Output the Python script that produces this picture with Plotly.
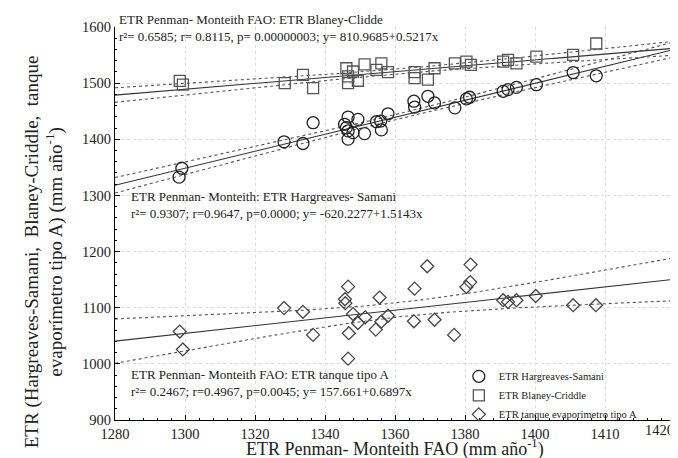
import numpy as np
import plotly.graph_objects as go

# ---------------- data ----------------
hs_x = [1298.3, 1299.1, 1328.3, 1333.7, 1336.6, 1345.6, 1346.1, 1346.6, 1346.6, 1348.0,
        1346.6, 1349.4, 1351.3, 1354.7, 1355.9, 1356.1, 1358.0, 1365.4, 1365.6, 1369.4,
        1371.3, 1377.1, 1380.4, 1381.3, 1390.9, 1392.3, 1394.7, 1400.4, 1410.9, 1417.5]
hs_y = [1332.6, 1348.4, 1395.5, 1392.5, 1429.5, 1426.7, 1420.7, 1439.6, 1414.9, 1411.9,
        1400.3, 1435.5, 1410.1, 1431.3, 1432.5, 1416.7, 1445.4, 1467.8, 1457.2, 1476.6,
        1464.8, 1456.0, 1471.9, 1474.9, 1485.4, 1488.4, 1492.5, 1497.2, 1518.9, 1513.1]

bc_x = [1298.5, 1299.4, 1328.5, 1333.7, 1336.6, 1346.1, 1346.6, 1346.6, 1348.0, 1349.4,
        1351.3, 1354.7, 1356.1, 1358.0, 1365.6, 1365.6, 1369.4, 1371.3, 1377.1, 1380.4,
        1381.7, 1390.9, 1392.3, 1394.7, 1400.4, 1410.9, 1417.5]
bc_y = [1504.0, 1497.2, 1500.1, 1514.9, 1491.3, 1526.5, 1511.9, 1500.1, 1520.7, 1504.3,
        1533.6, 1523.7, 1535.3, 1519.5, 1519.5, 1508.9, 1506.1, 1526.5, 1535.3, 1538.3,
        1532.5, 1538.3, 1541.3, 1535.3, 1547.1, 1550.2, 1570.6]

ta_x = [1298.5, 1299.4, 1328.3, 1333.7, 1336.6, 1346.6, 1345.7, 1345.8, 1348.0, 1346.8,
        1346.6, 1349.4, 1351.5, 1354.5, 1356.1, 1355.6, 1358.0, 1365.6, 1365.4, 1369.2,
        1371.3, 1376.9, 1380.4, 1381.5, 1381.6, 1390.9, 1392.3, 1394.7, 1400.2, 1410.9, 1417.4]
ta_y = [1057.5, 1025.7, 1099.3, 1092.7, 1051.6, 1137.5, 1115.1, 1108.1, 1088.7, 1054.6,
        1009.3, 1072.8, 1082.9, 1061.0, 1075.1, 1118.1, 1085.7, 1134.0, 1075.8, 1173.8,
        1078.6, 1051.6, 1136.8, 1145.6, 1176.8, 1113.4, 1110.4, 1113.4, 1120.9, 1104.5, 1104.5]

# regression coefficients (intercept, slope) as printed on the chart
hs_coef = [-620.2277, 1.5143]
bc_coef = [810.9685, 0.5217]
ta_coef = [157.661, 0.6897]

x_tickvals = [1280, 1300, 1320, 1340, 1360, 1380, 1400, 1420, 1440]
x_ticktext = ["1280", "1300", "1320", "1340", "1360", "1380", "1400", "1410", "1420"]
y_tickvals = [900, 1000, 1100, 1200, 1300, 1400, 1500, 1600]

X_MIN, X_MAX = 1280, 1440
T_CRIT = 2.05

FONT = "Liberation Serif"
TXT = "#222222"


def fit_band(xs, ys, coef):
    xs = np.asarray(xs, float)
    ys = np.asarray(ys, float)
    n = len(xs)
    b0, b1 = coef
    res = ys - (b0 + b1 * xs)
    s = np.sqrt(np.sum(res ** 2) / (n - 2))
    xbar = xs.mean()
    sxx = np.sum((xs - xbar) ** 2)
    grid = np.linspace(X_MIN, X_MAX, 200)
    yhat = b0 + b1 * grid
    half = T_CRIT * s * np.sqrt(1.0 / n + (grid - xbar) ** 2 / sxx)
    return grid, yhat, yhat - half, yhat + half


fig = go.Figure()

series = [
    (hs_x, hs_y, hs_coef, "ETR Hargreaves-Samani", "circle-open", 12, "#222222"),
    (bc_x, bc_y, bc_coef, "ETR Blaney-Criddle", "square-open", 11, "#555555"),
    (ta_x, ta_y, ta_coef, "ETR tanque evaporimetro tipo A", "diamond-open", 10, "#444444"),
]

for xs, ys, coef, name, sym, size, col in series:
    g, yh, lo, hi = fit_band(xs, ys, coef)
    fig.add_trace(go.Scatter(x=g, y=yh, mode="lines", line=dict(color="#333333", width=1.1),
                             showlegend=False, hoverinfo="skip"))
    for band in (lo, hi):
        fig.add_trace(go.Scatter(x=g, y=band, mode="lines",
                                 line=dict(color="#555555", width=1.1, dash="dot"),
                                 showlegend=False, hoverinfo="skip"))

for xs, ys, coef, name, sym, size, col in series:
    fig.add_trace(go.Scatter(x=xs, y=ys, mode="markers", name=name,
                             marker=dict(symbol=sym, size=size, color=col,
                                         line=dict(width=1.3, color=col))))

# annotation text blocks (paper coordinates)
annots = [
    (0.004, 1.019, 13, "ETR Penman- Monteith FAO: ETR Blaney-Clidde"),
    (0.004, 0.975, 13, "r²= 0.6585; r= 0.8115, p= 0.00000003; y= 810.9685+0.5217x"),
    (0.025, 0.569, 13, "ETR Penman- Monteith: ETR Hargreaves- Samani"),
    (0.025, 0.526, 13, "r²= 0.9307; r=0.9647, p=0.0000; y= -620.2277+1.5143x"),
    (0.025, 0.116, 13, "ETR Penman- Monteith FAO: ETR tanque tipo A"),
    (0.025, 0.073, 13, "r²= 0.2467; r=0.4967, p=0.0045; y= 157.661+0.6897x"),
]
for ax_, ay_, fs, t in annots:
    fig.add_annotation(x=ax_, y=ay_, xref="paper", yref="paper", text=t,
                       showarrow=False, xanchor="left", yanchor="middle",
                       font=dict(family=FONT, size=fs, color=TXT))

# last x tick label placed inside the figure edge
fig.add_annotation(xref="paper", yref="paper", x=0.972, y=0.0, text=x_ticktext[-1],
                   showarrow=False, xanchor="center", yanchor="top",
                   font=dict(family=FONT, size=14.5, color=TXT))

# axis titles
fig.add_annotation(xref="paper", yref="paper", x=0.5, y=-0.07,
                   text="ETR Penman- Monteith FAO (mm año<sup>-1</sup>)",
                   showarrow=False, xanchor="center", yanchor="middle",
                   font=dict(family=FONT, size=18, color=TXT))
fig.add_annotation(xref="paper", yref="paper", x=-0.126, y=0.428,
                   text="ETR (Hargreaves-Samani,  Blaney-Criddle,  tanque<br>evaporímetro tipo A) (mm año<sup>-1</sup>)",
                   showarrow=False, xanchor="center", yanchor="middle", textangle=-90,
                   font=dict(family=FONT, size=19, color=TXT))

axis_common = dict(showline=True, linecolor="black", linewidth=1.2, mirror=False,
                   ticks="inside", ticklen=5, tickcolor="black",
                   showgrid=True, gridcolor="#dddddd", griddash="dot", gridwidth=1,
                   zeroline=False, tickfont=dict(family=FONT, size=14.5, color=TXT))

fig.update_xaxes(range=[X_MIN, X_MAX], tickmode="array", tickvals=x_tickvals,
                 ticktext=x_ticktext[:-1] + [""],
                 minor=dict(ticks="inside", ticklen=2, dtick=4, tickcolor="black", showgrid=False),
                 **axis_common)
fig.update_yaxes(range=[900, 1600], tickmode="array", tickvals=y_tickvals,
                 minor=dict(ticks="inside", ticklen=2, dtick=20, tickcolor="black", showgrid=False),
                 **axis_common)

fig.update_layout(
    width=678, height=458,
    margin=dict(l=107, r=11, t=15, b=46),
    plot_bgcolor="white", paper_bgcolor="white",
    font=dict(family=FONT, color=TXT),
    legend=dict(x=0.614, y=0.148, xanchor="left", yanchor="top",
                bgcolor="rgba(0,0,0,0)", font=dict(family=FONT, size=10.5, color=TXT),
                tracegroupgap=0, itemsizing="trace"),
)

fig.write_html("out.html")
